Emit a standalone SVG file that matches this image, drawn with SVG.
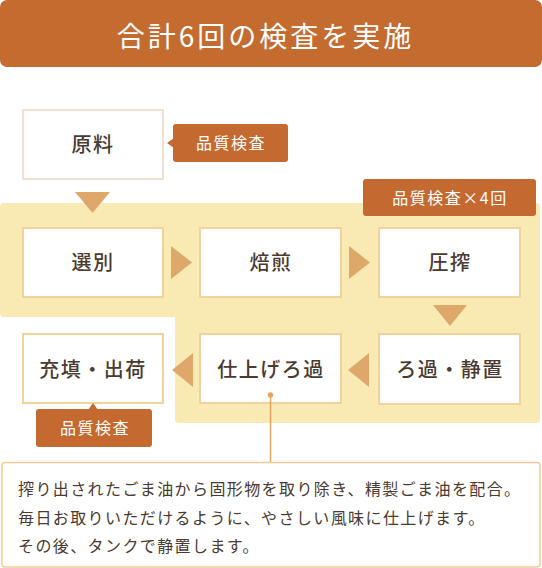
<svg xmlns="http://www.w3.org/2000/svg" width="542" height="568" viewBox="0 0 542 568">
<style>
.box{fill:#fff;stroke:#F2D29C;stroke-width:2}
.box0{fill:#fff;stroke:#F3DED2;stroke-width:2}
.lbl{font-family:"Noto Sans CJK JP","Noto Sans",sans-serif;font-size:20px;font-weight:500;fill:#4A3A30;text-anchor:middle;letter-spacing:1.5px}
.tag{fill:#C4692F}
.tagt{font-family:"Noto Sans CJK JP","Noto Sans",sans-serif;font-size:16px;fill:#fff;text-anchor:middle;letter-spacing:1.5px}
.arr{fill:#DFA86B}
.desc{font-family:"Noto Sans CJK JP","Noto Sans",sans-serif;font-size:16px;fill:#4A3A30;letter-spacing:1.4px}
</style>
<rect x="0" y="0" width="542" height="67" rx="7" fill="#C46B2F"/>
<text x="265.5" y="47" font-family="'Noto Sans CJK JP','Noto Sans',sans-serif" font-size="28" fill="#fff" text-anchor="middle" letter-spacing="3">合計6回の検査を実施</text>
<path d="M4,203 H536 Q540,203 540,207 V419 Q540,423 536,423 H179 Q175,423 175,419 V317 H4 Q0,317 0,313 V207 Q0,203 4,203 Z" fill="#F8EAB2"/>
<g id="node-genryo"><rect class="box0" x="23" y="110" width="140" height="69"/><text class="lbl" x="93" y="152">原料</text></g>
<g id="tag-1"><polygon class="tag" points="167,143 174,138 174,148"/><rect class="tag" x="173" y="124" width="115" height="38" rx="3"/><text class="tagt" x="231" y="149">品質検査</text></g>
<g id="tag-4"><rect class="tag" x="363" y="179" width="173" height="37" rx="3"/><text class="tagt" x="450" y="204">品質検査×4回</text></g>
<g id="node-senbetsu"><rect class="box" x="23" y="228" width="140" height="69"/><text class="lbl" x="93" y="270">選別</text></g>
<g id="node-baisen"><rect class="box" x="200" y="228" width="141" height="69"/><text class="lbl" x="271" y="270">焙煎</text></g>
<g id="node-assaku"><rect class="box" x="379" y="228" width="141" height="69"/><text class="lbl" x="450" y="270">圧搾</text></g>
<g id="node-roka"><rect class="box" x="379" y="334" width="141" height="70"/><text class="lbl" x="450" y="377">ろ過・静置</text></g>
<g id="node-shiage"><rect class="box" x="200" y="334" width="141" height="69"/><text class="lbl" x="271" y="377">仕上げろ過</text></g>
<g id="node-juten"><rect class="box" x="23" y="334" width="140" height="69"/><text class="lbl" x="93" y="377">充填・出荷</text></g>
<g id="tag-2"><polygon class="tag" points="93,403 88,410 98,410"/><rect class="tag" x="36" y="409" width="116" height="38" rx="3"/><text class="tagt" x="95" y="434">品質検査</text></g>
<g id="desc"><rect x="2" y="462.5" width="538" height="104.5" rx="3" fill="#fff" stroke="#F0CB96" stroke-width="1.5"/>
<text class="desc" x="18" y="495">搾り出されたごま油から固形物を取り除き、精製ごま油を配合。</text>
<text class="desc" x="18" y="524">毎日お取りいただけるように、やさしい風味に仕上げます。</text>
<text class="desc" x="18" y="552">その後、タンクで静置します。</text>
</g>
<g id="connectors">
<polygon class="arr" points="75,192 110,192 92.5,213"/>
<polygon class="arr" points="171,246 171,279 192,262.5"/>
<polygon class="arr" points="349,246 349,279 370,262.5"/>
<polygon class="arr" points="433,305 467,305 450,326"/>
<polygon class="arr" points="369,353 369,387 348,370"/>
<polygon class="arr" points="193,353 193,387 172,370"/>
<line x1="270.5" y1="395" x2="270.5" y2="462" stroke="#E6A45E" stroke-width="1.5"/>
<circle cx="270.5" cy="395" r="2.7" fill="#E6A45E"/>
</g>
</svg>
